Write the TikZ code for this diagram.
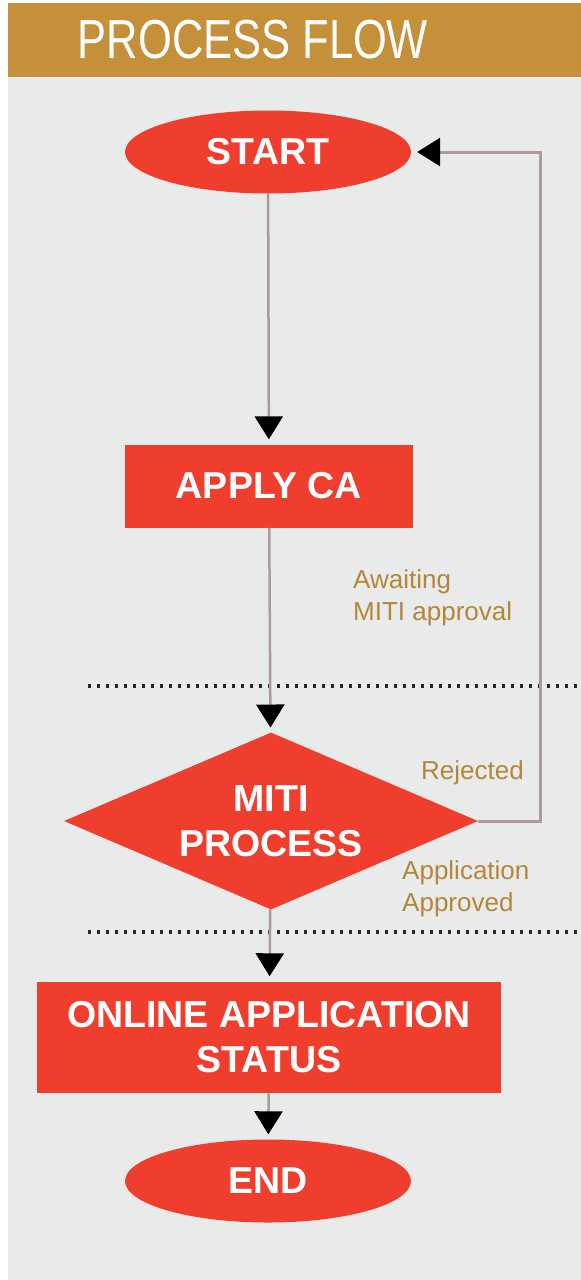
\documentclass[tikz,border=0pt]{standalone}
\usepackage{fontspec}
\usepackage{graphicx}
\setmainfont{Liberation Sans}
\usetikzlibrary{shapes.geometric,arrows.meta}
\definecolor{flowred}{RGB}{239,62,45}
\definecolor{bandgold}{RGB}{196,144,58}
\definecolor{panelgray}{RGB}{233,234,234}
\definecolor{notegold}{RGB}{179,135,58}
\definecolor{linegray}{RGB}{172,155,151}
\begin{document}
\begin{tikzpicture}[x=1pt,y=-1pt,
		flowbox/.style={fill=flowred,draw=none,text=white,inner sep=0pt,align=center,
			font=\bfseries\fontsize{37.5}{45}\selectfont},
		term/.style={flowbox,ellipse,minimum width=286pt,minimum height=83pt},
		task/.style={flowbox,rectangle,minimum width=288pt,minimum height=83pt},
		decide/.style={flowbox,diamond,aspect=2.34,minimum width=414pt,minimum height=177pt},
		flowline/.style={line width=2.5pt,draw=linegray,shorten >=5pt,
			-{Triangle[length=23pt,width=28pt,color=black]}},
		loopline/.style={flowline,line width=3pt,shorten >=6pt},
		sepline/.style={line width=3.2pt,dash pattern=on 3.2pt off 5.8pt,black!85},
		note/.style={text=notegold,anchor=west,inner sep=0pt,align=left,
			font=\fontsize{26}{32}\selectfont}]
	\useasboundingbox (0,0) rectangle (581,1280);
	% background and title band
	\fill[white] (0,0) rectangle (581,1280);
	\fill[panelgray] (8,77) rectangle (581,1280);
	\fill[bandgold] (8,3) rectangle (581,77);
	\node[text=white,font=\fontsize{55}{60}\selectfont] (title) at (253,40) {\scalebox{0.79}[1]{PROCESS FLOW}};
	% stage separators
	\draw[sepline] (88,686) -- (581,686);
	\draw[sepline] (88,932) -- (581,932);
	% flow nodes
	\node[term] (start) at (268,152) {START};
	\node[task] (apply) at (269,486) {APPLY CA};
	\node[decide] (miti) at (271,821) {MITI\\PROCESS};
	\node[task,minimum width=464pt,minimum height=111pt] (status) at (269,1037) {ONLINE APPLICATION\\STATUS};
	\node[term] (finish) at (268,1181) {END};
	\coordinate (loopcorner) at (540,152);
	% connectors
	\draw[flowline] (start) -- (apply);
	\draw[flowline] (apply) -- (miti);
	\draw[flowline] (miti) -- (status);
	\draw[flowline] (status) -- (finish);
	\draw[loopline] (miti.east) -| (loopcorner) -- (start.east);
	% notes
	\node[note] (awaiting) at (353,598) {Awaiting\\MITI approval};
	\node[note] (rejected) at (421,773) {Rejected};
	\node[note] (approved) at (402,889) {Application\\Approved};
\end{tikzpicture}
\end{document}
